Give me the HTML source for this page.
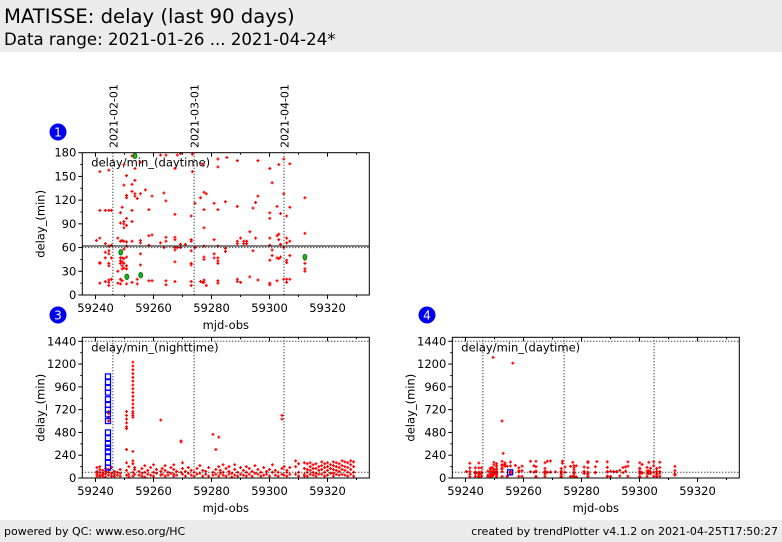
<!DOCTYPE html>
<html><head><meta charset="utf-8"><style>
body{margin:0;width:782px;height:542px;overflow:hidden;background:#fff;font-family:"DejaVu Sans","Liberation Sans",sans-serif}
#hdr{position:absolute;left:0;top:0;width:782px;height:52px;background:#ececec}
#t1{position:absolute;left:4px;top:5px;font-size:19.6px;color:#000;white-space:nowrap}
#t2{position:absolute;left:4px;top:30px;font-size:16.6px;color:#000;white-space:nowrap}
#ftr{position:absolute;left:0;top:520px;width:782px;height:22px;background:#ececec;font-family:"DejaVu Sans",sans-serif;font-size:11px}
#fl{position:absolute;left:4px;top:5px}
#fr{position:absolute;right:4px;top:5px}
svg{position:absolute;left:0;top:0}
</style></head><body>
<div id="hdr">
<div id="t1">MATISSE: delay (last 90 days)</div>
<div id="t2">Data range: 2021-01-26 ... 2021-04-24*</div>
</div>
<div id="ftr">
<span id="fl">powered by QC: www.eso.org/HC</span>
<span id="fr">created by trendPlotter v4.1.2 on 2021-04-25T17:50:27</span>
</div>
<svg id="svg" width="782" height="520" xmlns="http://www.w3.org/2000/svg"></svg>
<script>
// ---- data ----
const xTicks = [59240, 59260, 59280, 59300, 59320];
const dateMjd = [59246, 59274, 59305];
const dateLabels = ["2021-02-01", "2021-03-01", "2021-04-01"];
const yTicks1 = [0, 30, 60, 90, 120, 150, 180];
const yTicks3 = [0, 240, 480, 720, 960, 1200, 1440];

// daytime delay (panel 1 & 4)
const dayDays = [59240.3,59241.5,59243.4,59244.6,59245.5,59247.7,59248.6,59249.2,59249.8,59250.7,59252.6,59253.6,59254.4,59255.5,59257.2,59258.4,59259.5,59262.4,59263.6,59264.3,59267.4,59268.2,59269.3,59271.0,59273.0,59273.4,59274.3,59276.2,59277.0,59277.4,59278.2,59280.9,59282.2,59284.8,59285.3,59288.9,59290.0,59291.1,59292.1,59293.2,59294.3,59295.2,59296.0,59300.1,59300.9,59302.6,59303.2,59303.8,59304.9,59305.9,59307.0,59312.2];
const dayVals = [[69],[72,107,156,41,40,15],[17,65,54,47,107],[158,62,52,56,40,37,19,16,12,107],[63,20,47,107],[72,30,15],[104,91,68,47,43,40,20,14],[111,69,47,42,37,33,18],[165,139,93,90,85,68,58,46,40,34],[151,126,123,97,88,67,62,48,37,33,14],[176,140,131,107,93,68,16],[160,145,128,125],[122,20,14],[168,128,69,66,52,38],[133],[108,75,63,18],[125,76,18],[177,66],[129,60],[177,119,73,68,18,13],[160,102,73,70,60,57,42,17],[177,60],[179,64,60],[64],[100,70,68,56,40,38,17,12],[156,178],[116,60],[123,17],[165,16],[130,108,85,62,48,45,19,16],[128,12],[116,70,52,47],[172,162,108,62,43,47,40,18,15],[118,59,55],[174],[170,112,68,65,20,17],[72,16],[68,65],[65,68],[80,23],[110,56],[117,72],[125,170,19],[160,104,97,72,63,44,15,13],[142,57,50],[112,75,47,18],[165,77,70,46],[103,64,48],[172,128,60,20],[100,72,66,44,41,20,16],[166,111,68,50,20],[123,78,45,40,33,30]];
const dayFlagDays = [59248.7,59250.8,59253.6,59255.6,59312.2];
const dayFlagVals = [54,23,176,25,48];
const dayOutDays = [59249.5,59252.6,59253.0,59256.3];
const dayOutVals = [1270,600,260,1210];
const dayBlueDays = [59255.4];
const dayBlueVals = [60];

// nighttime delay (panel 3)
const nightDays = [59240.5,59241.5,59242.5,59243.5,59244.5,59245.5,59246.5,59247.5,59248.5,59250.7,59251.5,59252.9,59253.5,59255,59256,59257,59258,59259,59260,59261,59262.5,59263,59264,59265,59266,59267,59268,59269.5,59270,59271,59272,59273,59274,59275,59276,59277,59278,59279,59280.5,59281.5,59282.5,59283,59284,59285,59286,59287,59288,59289,59290,59291,59292,59293,59294,59295,59296,59297,59298,59299,59300,59301,59302,59303,59304.3,59305,59306,59307,59309,59310,59312,59313,59314,59315,59316,59317,59318,59319,59320,59321,59322,59323,59324,59325,59326,59327,59328,59329];
const nightVals = [[40,70,110,20,55],[30,90,60,15,120],[50,20,80,35],[10,45,100,70],[600,640,680,700,60,30,90],[20,50,110],[40,15,70],[30,60],[90,20,50],[700,660,620,580,540,520,300,160,80,30],[40,120,10],[1220,1180,1140,1100,1060,1020,980,940,900,860,820,780,740,700,680,660,640,280,180,150,60,20],[90,40,110],[30,70],[20,100,50],[60,130,10],[40,80],[110,30],[60,140,20],[50,90],[610,70,30],[100,40],[20,80,130],[60,30],[110,50],[40,90,140,20],[70,30],[390,380,60],[160,40,100],[20,70],[110,50],[30,80],[60,20],[100,40],[50,130],[20,80],[70,40],[110,20],[460,60,30],[300,90,40],[430,120,20],[50,80],[30,140,60],[100,20],[70,40,120],[50,10],[90,30,140],[60,20],[110,40],[30,80],[60,20,120],[100,40],[20,70],[130,50],[40,90],[20,60],[110,30],[70,40],[20,90],[60,140],[30,80],[20,60],[660,620,100,40],[30,120],[80,20,60],[110,40],[180,120,40],[150,60,20],[160,100,40,20],[150,90,60,20],[160,120,80,40],[140,100,60,30],[150,100,50,20],[120,80,40],[170,130,90,40],[150,110,60,20],[160,120,80,30],[140,100,50],[170,130,90,50,20],[160,120,80,40],[150,110,70,30],[180,130,90,40],[170,120,80,30],[160,110,60,20],[180,140,90,40],[170,120,60,20]];
const nightBlueDays = [59244.3];
const nightBlueVals = [[1070,1010,950,900,830,770,720,670,600,480,420,360,320,280,220,160,110]];

// ---- drawing ----
const NS = "http://www.w3.org/2000/svg";
const svg = document.getElementById("svg");
function mk(tag, attrs, parent){const e=document.createElementNS(NS,tag);for(const k in attrs)e.setAttribute(k,attrs[k]);(parent||svg).appendChild(e);return e;}

function makeAxes(x0,x1,y0,y1,ymin,ymax){
  const xmin=59235.45,xmax=59334.4;
  return {x:v=>x0+(v-xmin)/(xmax-xmin)*(x1-x0), y:v=>y1-(v-ymin)/(ymax-ymin)*(y1-y0), x0,x1,y0,y1};
}

function drawFrame(ax,name,yTicks,minorStep,ymaxTick,title,showDates){
  const g=mk("g",{});
  
  
  dateMjd.forEach((d,i)=>{
    const l=mk("line",{x1:ax.x(d),x2:ax.x(d),y1:ax.y0,y2:ax.y1,stroke:"#000","stroke-width":1,"stroke-dasharray":"1,2"},g);
    
    
    if(showDates){
      const t=mk("text",{x:0,y:0,"font-size":11,"font-family":"DejaVu Sans, sans-serif",transform:`translate(${ax.x(d)+4.5},148) rotate(-90)`},g);
      t.textContent=dateLabels[i];
      
      
    }
  });
  yTicks.forEach(v=>{
    const y=ax.y(v);
    mk("line",{x1:ax.x0-4,x2:ax.x0,y1:y,y2:y,stroke:"#000"},g);
    const t=mk("text",{x:ax.x0-6,y:y+4,"text-anchor":"end","font-size":11.5,"font-family":"DejaVu Sans, sans-serif"},g);
    t.textContent=v;
    
    
  });
  for(let v=minorStep; v<ymaxTick; v+=minorStep*2){const y=ax.y(v);mk("line",{x1:ax.x0-2,x2:ax.x0,y1:y,y2:y,stroke:"#000"},g);}
  for(let v=59240; v<=59330; v+=10){
    const x=ax.x(v), L=(v%20===0)?4:2;
    mk("line",{x1:x,x2:x,y1:ax.y1,y2:ax.y1+L,stroke:"#000"},g);
    mk("line",{x1:x,x2:x,y1:ax.y0,y2:ax.y0+L,stroke:"#000"},g);
  }
  xTicks.forEach(v=>{
    const t=mk("text",{x:ax.x(v),y:ax.y1+17,"text-anchor":"middle","font-size":11.5,"font-family":"DejaVu Sans, sans-serif"},g);
    t.textContent=v;
    
    
  });
  const xl=mk("text",{x:(ax.x0+ax.x1)/2,y:ax.y1+34,"text-anchor":"middle","font-size":11.5,"font-family":"DejaVu Sans, sans-serif"},g);
  xl.textContent="mjd-obs";
  
  
  const yl=mk("text",{x:0,y:0,"text-anchor":"middle","font-size":11.5,"font-family":"DejaVu Sans, sans-serif",transform:`translate(${ax.x0-38},${(ax.y0+ax.y1)/2}) rotate(-90)`},g);
  yl.textContent="delay_(min)";
  
  
  const tt=mk("text",{x:ax.x0+9,y:ax.y0+14,"font-size":11.5,"font-family":"DejaVu Sans, sans-serif"},g);
  tt.textContent=title;
  
  
  return g;
}
function box(ax){
  const r=mk("rect",{x:ax.x0,y:ax.y0,width:ax.x1-ax.x0,height:ax.y1-ax.y0,fill:"none",stroke:"#000","stroke-width":1});
  
  
}
function hline(ax,v,dash){
  const l=mk("line",{x1:ax.x0,x2:ax.x1,y1:ax.y(v),y2:ax.y(v),stroke:"#000","stroke-width":1,"stroke-dasharray":dash||"none"});
  
  
}
function cross(ax,d,v,ymax,g){
  if(v>ymax) return;
  const x=ax.x(d),y=ax.y(v);
  const p=mk("path",{d:`M${x-1.5},${y}H${x+1.5}M${x},${y-1.5}V${y+1.5}`,stroke:"#f00","stroke-width":1.2},g);
  
  
}
function ring(ax,d,v,color,g,sq){
  const x=ax.x(d),y=ax.y(v);
  const e = sq ? mk("rect",{x:x-2.5,y:y-2.5,width:5,height:5,fill:"none",stroke:color,"stroke-width":1.3},g)
               : mk("ellipse",{cx:x,cy:y,rx:1.8,ry:2.6,fill:"#3a3",stroke:color,"stroke-width":1.2},g);
  
  
}
function badge(cx,cy,n){
  const c=mk("circle",{cx:cx,cy:cy,r:8.5,fill:"#0000ee"});
  
  
  const t=mk("text",{x:cx,y:cy+4.5,"text-anchor":"middle","font-size":12,fill:"#fff","font-family":"DejaVu Sans, sans-serif"});
  t.textContent=n;
  
  
}

// Panel 1
const a1=makeAxes(82.3,369.3,152.7,295,0,180);
drawFrame(a1,"panel-1-daytime",yTicks1,15,180,"delay/min_(daytime)",true);
const p1=mk("g",{});


dayDays.forEach((d,i)=>dayVals[i].forEach(v=>cross(a1,d,v,180,p1)));
dayFlagDays.forEach((d,i)=>ring(a1,d,dayFlagVals[i],"#080",p1,false));
hline(a1,62,null); hline(a1,60,"1,2");
box(a1);
badge(58,132,"1");

// Panel 3
const a3=makeAxes(82.3,369.3,337.3,478,0,1482);
drawFrame(a3,"panel-3-nighttime",yTicks3,120,1440,"delay/min_(nighttime)",false);
const p3=mk("g",{});


nightDays.forEach((d,i)=>nightVals[i].forEach(v=>cross(a3,d,v,1482,p3)));
nightBlueDays.forEach((d,i)=>nightBlueVals[i].forEach(v=>ring(a3,d,v,"#00f",p3,true)));
hline(a3,1440,"1,2"); hline(a3,60,"1,2");
box(a3);
badge(58,315,"3");

// Panel 4
const a4=makeAxes(452.3,739.3,337.3,478,0,1482);
drawFrame(a4,"panel-4-daytime",yTicks3,120,1440,"delay/min_(daytime)",false);
const p4=mk("g",{});


dayDays.forEach((d,i)=>dayVals[i].forEach(v=>cross(a4,d,v,1482,p4)));
dayOutDays.forEach((d,i)=>cross(a4,d,dayOutVals[i],1482,p4));
dayBlueDays.forEach((d,i)=>ring(a4,d,dayBlueVals[i],"#00f",p4,true));
hline(a4,1440,"1,2"); hline(a4,60,"1,2");
box(a4);
badge(427,315,"4");
</script>
</body></html>
